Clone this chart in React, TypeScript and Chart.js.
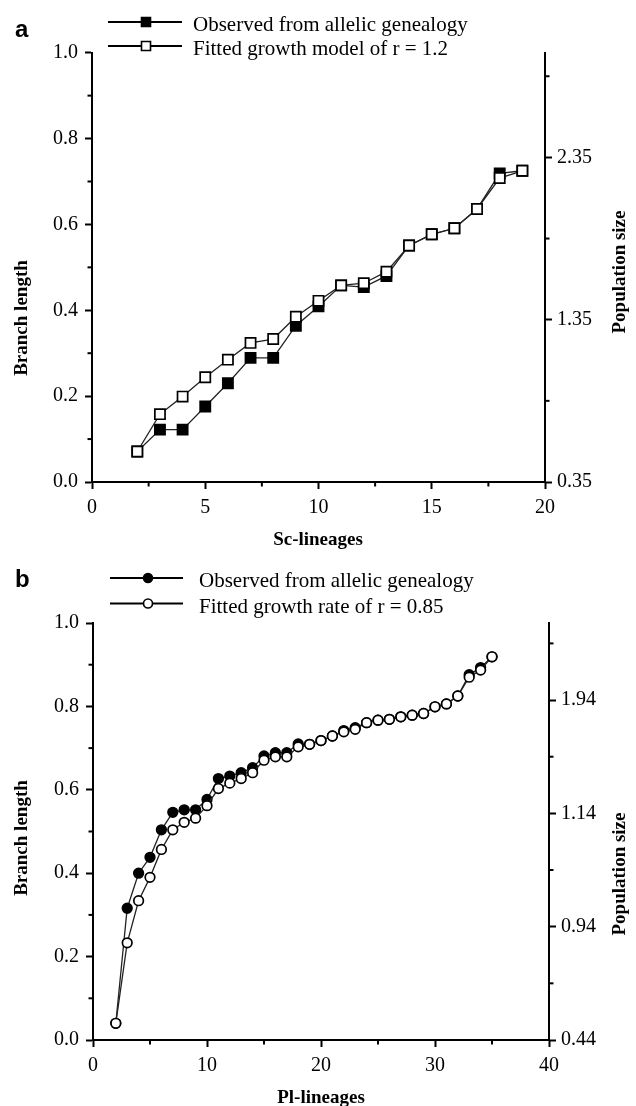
import React, { useEffect, useRef } from 'react';
import { Chart, registerables } from 'chart.js';

Chart.register(...registerables);

// ---------- Panel a data ----------
const scLineages = [2, 3, 4, 5, 6, 7, 8, 9, 10, 11, 12, 13, 14, 15, 16, 17, 18, 19];
const scObserved = [0.071, 0.122, 0.122, 0.176, 0.23, 0.289, 0.289, 0.364, 0.409, 0.458, 0.454, 0.48, 0.551, 0.577, 0.591, 0.636, 0.719, 0.725];
const scFitted = [0.071, 0.158, 0.199, 0.244, 0.285, 0.324, 0.333, 0.385, 0.422, 0.458, 0.463, 0.49, 0.551, 0.577, 0.591, 0.636, 0.708, 0.725];
const scXTickValues = [0, 2.5, 5, 7.5, 10, 12.5, 15, 17.5, 20];
const scXTickLabels = ['0', '', '5', '', '10', '', '15', '', '20'];
const scRightTickValues = [0, 1, 2, 3, 4, 5];
const scRightTickLabels = ['0.35', '', '1.35', '', '2.35', ''];
const scLegend = ['Observed from allelic genealogy', 'Fitted growth model of r = 1.2'];

// ---------- Panel b data ----------
const plLineages = [2, 3, 4, 5, 6, 7, 8, 9, 10, 11, 12, 13, 14, 15, 16, 17, 18, 19, 20, 21, 22, 23, 24, 25, 26, 27, 28, 29, 30, 31, 32, 33, 34, 35];
const plObserved = [0.04, 0.316, 0.4, 0.438, 0.504, 0.546, 0.552, 0.552, 0.577, 0.627, 0.633, 0.641, 0.653, 0.681, 0.689, 0.689, 0.71, 0.709, 0.718, 0.729, 0.742, 0.749, 0.761, 0.767, 0.769, 0.775, 0.779, 0.783, 0.799, 0.806, 0.825, 0.876, 0.893, 0.919];
const plFitted = [0.04, 0.233, 0.334, 0.39, 0.457, 0.504, 0.522, 0.532, 0.562, 0.603, 0.616, 0.627, 0.641, 0.671, 0.679, 0.679, 0.703, 0.709, 0.718, 0.729, 0.739, 0.745, 0.761, 0.767, 0.769, 0.775, 0.779, 0.783, 0.799, 0.806, 0.825, 0.87, 0.887, 0.919];
const plXTickValues = [0, 5, 10, 15, 20, 25, 30, 35, 40];
const plXTickLabels = ['0', '', '10', '', '20', '', '30', '', '40'];
const plRightTickValues = [0, 1, 2, 3, 4, 5, 6, 7];
const plRightTickLabels = ['0.44', '', '0.94', '', '1.14', '', '1.94', ''];
const plLegend = ['Observed from allelic genealogy', 'Fitted growth rate of r = 0.85'];

// ---------- shared axis ticks ----------
const branchTickValues = [0, 0.1, 0.2, 0.3, 0.4, 0.5, 0.6, 0.7, 0.8, 0.9, 1.0];
const branchTickLabels = ['0.0', '', '0.2', '', '0.4', '', '0.6', '', '0.8', '', '1.0'];

const SERIF = '"Liberation Serif", "Times New Roman", Times, serif';
const MINOR_LEN = 4.5;

function drawMarker(ctx: CanvasRenderingContext2D, style: string, filled: boolean, x: number, y: number, r: number) {
  ctx.beginPath();
  if (style === 'rect') {
    ctx.rect(x - r, y - r, 2 * r, 2 * r);
  } else {
    ctx.arc(x, y, r, 0, Math.PI * 2);
  }
  ctx.fillStyle = filled ? '#000' : '#fff';
  ctx.fill();
  ctx.lineWidth = 1.6;
  ctx.strokeStyle = '#000';
  ctx.stroke();
}

const overlayPlugin = {
  id: 'overlay',
  afterDraw(chart: any, _args: any, opts: any) {
    const ctx: CanvasRenderingContext2D = chart.ctx;
    ctx.save();
    // minor (unlabelled) ticks, shorter than the labelled ones
    ctx.strokeStyle = '#000';
    ctx.lineWidth = 2;
    Object.values(chart.scales).forEach((s: any) => {
      s.ticks.forEach((t: any) => {
        if (t.label !== '') return;
        const px = s.getPixelForValue(t.value);
        ctx.beginPath();
        if (s.position === 'bottom') {
          ctx.moveTo(px, s.top);
          ctx.lineTo(px, s.top + MINOR_LEN);
        } else if (s.position === 'left') {
          ctx.moveTo(s.right - MINOR_LEN, px);
          ctx.lineTo(s.right, px);
        } else {
          ctx.moveTo(s.left, px);
          ctx.lineTo(s.left + MINOR_LEN, px);
        }
        ctx.stroke();
      });
    });
    // panel letter
    ctx.fillStyle = '#000';
    ctx.font = 'bold 24px "Liberation Sans", Arial, sans-serif';
    ctx.textAlign = 'left';
    ctx.textBaseline = 'alphabetic';
    ctx.fillText(opts.letter, opts.letterX, opts.letterY);
    // legend
    opts.legendRows.forEach((rowY: number, i: number) => {
      ctx.beginPath();
      ctx.moveTo(opts.legendLineX0, rowY);
      ctx.lineTo(opts.legendLineX1, rowY);
      ctx.lineWidth = 2;
      ctx.strokeStyle = '#000';
      ctx.stroke();
      drawMarker(ctx, opts.markerStyle, i === 0, opts.legendMarkerX, rowY, opts.legendMarkerR);
      ctx.fillStyle = '#000';
      ctx.font = `21px ${SERIF}`;
      ctx.textAlign = 'left';
      ctx.textBaseline = 'alphabetic';
      ctx.fillText(opts.legendText[i], opts.legendTextX, rowY + 9);
    });
    // axis titles
    ctx.font = `bold 19px ${SERIF}`;
    ctx.fillStyle = '#000';
    ctx.textAlign = 'center';
    ctx.textBaseline = 'middle';
    ctx.fillText(opts.xTitle, opts.xTitleX, opts.xTitleY);
    ctx.save();
    ctx.translate(opts.leftTitleX, opts.leftTitleY);
    ctx.rotate(-Math.PI / 2);
    ctx.fillText('Branch length', 0, 0);
    ctx.restore();
    ctx.save();
    ctx.translate(opts.rightTitleX, opts.rightTitleY);
    ctx.rotate(-Math.PI / 2);
    ctx.fillText('Population size', 0, 0);
    ctx.restore();
    ctx.restore();
  },
};

function axisStyle() {
  return {
    grid: {
      display: true,
      drawOnChartArea: false,
      drawTicks: true,
      tickLength: 7,
      tickWidth: 2,
      tickColor: (c: any) => (c.tick && c.tick.label === '' ? 'rgba(0,0,0,0)' : '#000'),
    },
    border: { display: true, width: 2, color: '#000' },
  };
}

function makeConfig(p: any) {
  const pts = (xs: number[], ys: number[]) => xs.map((x, i) => ({ x, y: ys[i] }));
  return {
    type: 'line',
    data: {
      datasets: [
        {
          label: p.legendText[1],
          data: pts(p.xs, p.fitted),
          order: 0,
          borderColor: '#222',
          borderWidth: 1.3,
          pointStyle: p.markerStyle,
          pointRadius: p.pointRadius,
          pointBackgroundColor: '#fff',
          pointBorderColor: '#000',
          pointBorderWidth: 1.7,
          tension: 0,
          clip: false,
        },
        {
          label: p.legendText[0],
          data: pts(p.xs, p.observed),
          order: 1,
          borderColor: '#222',
          borderWidth: 1.3,
          pointStyle: p.markerStyle,
          pointRadius: p.pointRadius,
          pointBackgroundColor: '#000',
          pointBorderColor: '#000',
          pointBorderWidth: 1.7,
          tension: 0,
          clip: false,
        },
      ],
    },
    options: {
      responsive: false,
      animation: false,
      events: [],
      layout: { padding: { top: p.padTop, left: 0, right: 0, bottom: 0 } },
      plugins: {
        legend: { display: false },
        tooltip: { enabled: false },
        overlay: p.overlay,
      },
      scales: {
        x: {
          type: 'linear',
          position: 'bottom',
          min: 0,
          max: p.xMax,
          ...axisStyle(),
          afterBuildTicks: (s: any) => { s.ticks = p.xTickValues.map((v: number) => ({ value: v })); },
          afterFit: (s: any) => { s.height = p.xAxisHeight; },
          ticks: {
            autoSkip: false,
            maxRotation: 0,
            padding: 7,
            color: '#000',
            font: { family: SERIF, size: 20 },
            callback: (_v: any, i: number) => p.xTickLabels[i],
          },
        },
        y: {
          type: 'linear',
          position: 'left',
          min: 0,
          max: 1,
          ...axisStyle(),
          afterBuildTicks: (s: any) => { s.ticks = branchTickValues.map((v) => ({ value: v })); },
          afterFit: (s: any) => { s.width = p.leftWidth; },
          ticks: {
            autoSkip: false,
            padding: 7,
            color: '#000',
            font: { family: SERIF, size: 20 },
            callback: (_v: any, i: number) => branchTickLabels[i],
          },
        },
        y2: {
          type: 'linear',
          position: 'right',
          min: 0,
          max: p.rightMax,
          ...axisStyle(),
          afterBuildTicks: (s: any) => { s.ticks = p.rightTickValues.map((v: number) => ({ value: v })); },
          afterFit: (s: any) => { s.width = p.rightWidth; },
          ticks: {
            autoSkip: false,
            padding: 5,
            color: '#000',
            font: { family: SERIF, size: 20 },
            callback: (_v: any, i: number) => p.rightTickLabels[i],
          },
        },
      },
    },
    plugins: [overlayPlugin],
  };
}

const configA = makeConfig({
  xs: scLineages,
  observed: scObserved,
  fitted: scFitted,
  markerStyle: 'rect',
  pointRadius: 7.2,
  legendText: scLegend,
  xMax: 20,
  xTickValues: scXTickValues,
  xTickLabels: scXTickLabels,
  rightMax: 5.29,
  rightTickValues: scRightTickValues,
  rightTickLabels: scRightTickLabels,
  padTop: 52.7,
  xAxisHeight: 78,
  leftWidth: 92,
  rightWidth: 91,
  overlay: {
    letter: 'a',
    letterX: 15,
    letterY: 37,
    legendRows: [22, 46],
    legendLineX0: 108,
    legendLineX1: 182,
    legendMarkerX: 146,
    legendMarkerR: 4.5,
    markerStyle: 'rect',
    legendText: scLegend,
    legendTextX: 193,
    xTitle: 'Sc-lineages',
    xTitleX: 318,
    xTitleY: 540,
    leftTitleX: 22,
    leftTitleY: 318,
    rightTitleX: 620,
    rightTitleY: 272,
  },
});

const configB = makeConfig({
  xs: plLineages,
  observed: plObserved,
  fitted: plFitted,
  markerStyle: 'circle',
  pointRadius: 4.8,
  legendText: plLegend,
  xMax: 40,
  xTickValues: plXTickValues,
  xTickLabels: plXTickLabels,
  rightMax: 7.36,
  rightTickValues: plRightTickValues,
  rightTickLabels: plRightTickLabels,
  padTop: 63,
  xAxisHeight: 66,
  leftWidth: 93,
  rightWidth: 87,
  overlay: {
    letter: 'b',
    letterX: 15,
    letterY: 27,
    legendRows: [18, 43.5],
    legendLineX0: 110,
    legendLineX1: 183,
    legendMarkerX: 148,
    legendMarkerR: 4.5,
    markerStyle: 'circle',
    legendText: plLegend,
    legendTextX: 199,
    xTitle: 'Pl-lineages',
    xTitleX: 321,
    xTitleY: 538,
    leftTitleX: 22,
    leftTitleY: 278,
    rightTitleX: 620,
    rightTitleY: 314,
  },
});

function Panel({ config, top, height }: { config: any; top: number; height: number }) {
  const ref = useRef<HTMLCanvasElement | null>(null);
  useEffect(() => {
    if (!ref.current) return;
    const chart = new Chart(ref.current, config);
    return () => chart.destroy();
  }, [config]);
  return (
    <canvas
      ref={ref}
      width={636}
      height={height}
      style={{ position: 'absolute', left: 0, top, width: 636, height, display: 'block' }}
    />
  );
}

export default function App() {
  return (
    <div style={{ position: 'absolute', left: 0, top: 0, width: 636, height: 1106, background: '#fff', overflow: 'hidden' }}>
      <Panel config={configA} top={0} height={560} />
      <Panel config={configB} top={560} height={546} />
    </div>
  );
}
